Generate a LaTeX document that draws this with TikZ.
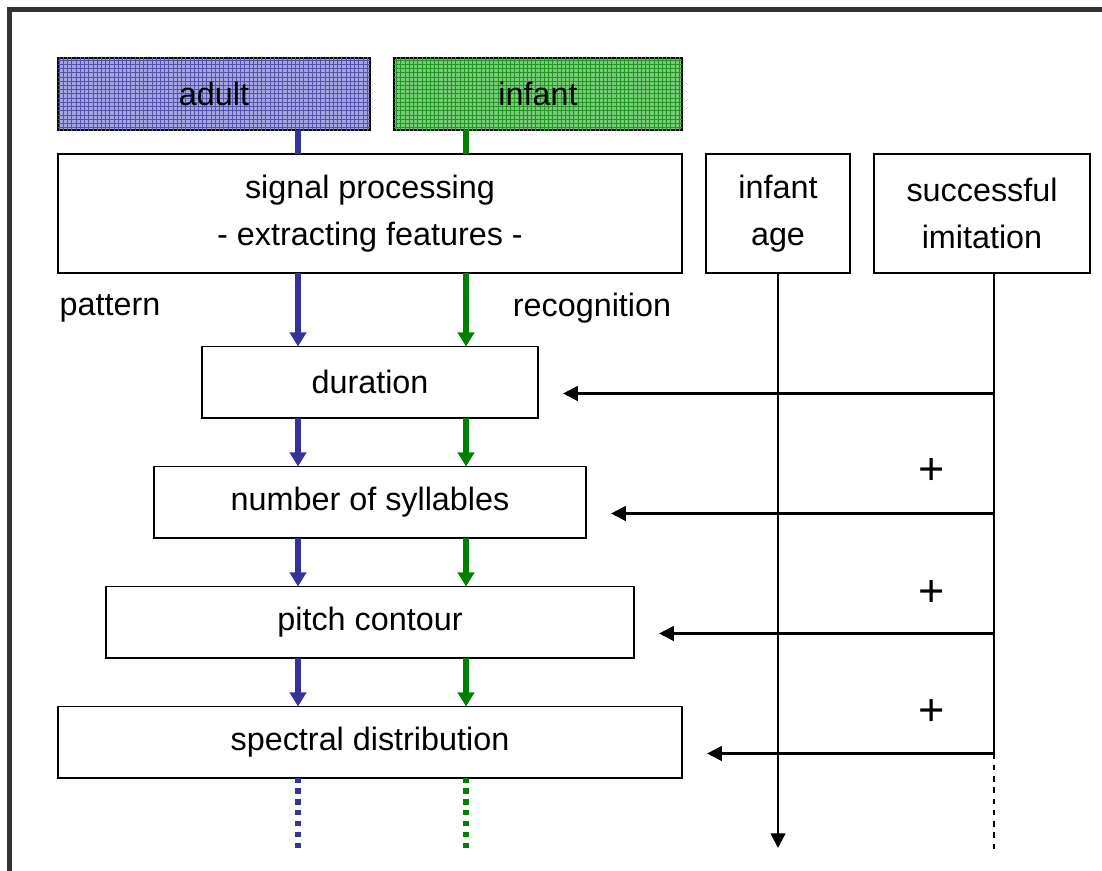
\documentclass[tikz,border=0pt]{standalone}
\usepackage{fontspec}
\setmainfont{Liberation Sans}
\usetikzlibrary{arrows.meta,patterns,calc}

\definecolor{adultblue}{HTML}{333399}
\definecolor{adultfill}{HTML}{A4A4E2}
\definecolor{infgreen}{HTML}{008000}
\definecolor{infantfill}{HTML}{74CC74}
\definecolor{framegray}{HTML}{333333}
\colorlet{adultline}{adultblue!85}
\colorlet{infantline}{infgreen!85}

\begin{document}
\begin{tikzpicture}[x=0.025cm,y=-0.025cm,font=\fontsize{23}{33}\selectfont,
  box/.style={draw,line width=1.4pt,fill=white,inner sep=0pt,outer sep=0pt,
    align=center,minimum height=1.775cm},
  srcbox/.style={box,minimum height=1.8cm,fill=#1fill,
    postaction={pattern=grid,pattern color=#1line}},
  flow/.style={line width=4.3pt,-{Triangle[length=10pt,width=11.5pt]}},
  flowdots/.style={line width=3.6pt,dash pattern=on 3.6pt off 4.2pt},
  blk/.style={line width=1.5pt,-{Triangle[length=10.5pt,width=10.5pt]}}]
  \useasboundingbox (0,0) rectangle (1102,870);
  % ---------- frame
  \draw[framegray,line width=3.6pt] (9.5,880) -- (9.5,9.5) -- (1110,9.5);
  % ---------- columns
  \coordinate (bl) at (298,0);
  \coordinate (gr) at (466,0);
  \coordinate (iml) at (994,0);
  \coordinate (low) at (0,848);
  % ---------- sources
  \node[srcbox=adult,minimum width=7.8cm] (adult) at (214,94) {adult};
  \node[srcbox=infant,minimum width=7.2cm] (infant) at (538,94) {infant};
  % ---------- boxes
  \node[box,minimum width=15.6cm,minimum height=2.975cm] (sig) at (370,213.5)
    {signal processing\\- extracting features -};
  \node[box,minimum width=3.6cm,minimum height=2.975cm] (age) at (778,213.5) {infant\\age};
  \node[box,minimum width=5.4cm,minimum height=2.975cm] (imit) at (982,213.5) {successful\\imitation};
  \node[box,minimum width=8.4cm] (dur) at (370,382) {duration};
  \node[box,minimum width=10.8cm] (syl) at (370,502) {number of syllables};
  \node[box,minimum width=13.2cm] (pitch) at (370,622) {pitch contour};
  \node[box,minimum width=15.6cm] (spec) at (370,742) {spectral distribution};
  \node (pat) at (110,308) {pattern};
  \node (rec) at (592,308) {recognition};
  % ---------- feature chain
  \draw[adultblue,line width=4.3pt] (adult.south -| bl) -- (sig.north -| bl);
  \draw[infgreen,line width=4.3pt] (infant.south -| gr) -- (sig.north -| gr);
  \foreach \a/\b in {sig/dur,dur/syl,syl/pitch,pitch/spec} {
    \draw[flow,adultblue] (\a.south -| bl) -- (\b.north -| bl);
    \draw[flow,infgreen] (\a.south -| gr) -- (\b.north -| gr);
  }
  \draw[flowdots,adultblue] (spec.south -| bl) -- (low -| bl);
  \draw[flowdots,infgreen] (spec.south -| gr) -- (low -| gr);
  % ---------- age and imitation
  \draw[blk] (age.south) -- (age.south |- low);
  \foreach \b in {dur,syl,pitch,spec} {
    \coordinate (h\b) at ($(\b.east)+(25,11.5)$);
    \draw[blk] (h\b -| iml) -- (h\b);
  }
  \draw[line width=1.5pt] (imit.south -| iml) -- (hspec -| iml);
  \draw[line width=1.5pt,dash pattern=on 4pt off 4pt] (hspec -| iml) -- ([yshift=-3pt]low -| iml);
  \foreach \y [count=\i] in {472,593,712}
    \node[font=\fontsize{32}{32}\selectfont] (plus\i) at (932,\y) {+};
\end{tikzpicture}
\end{document}
